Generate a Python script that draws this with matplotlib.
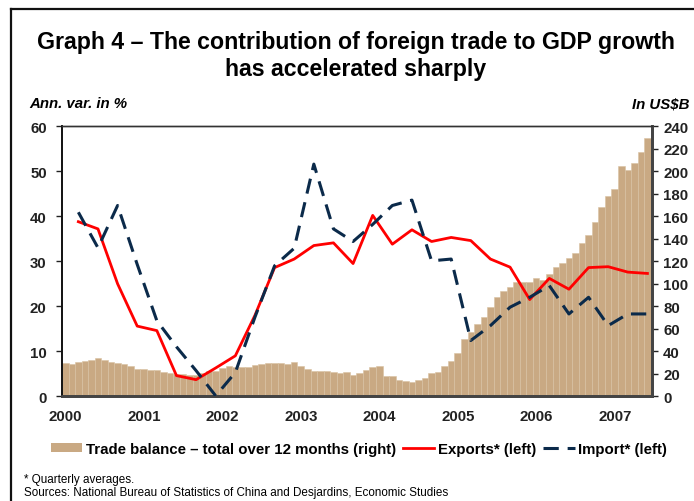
import matplotlib
matplotlib.use("Agg")
import matplotlib.pyplot as plt
from matplotlib.patches import Patch
from matplotlib.lines import Line2D
import numpy as np

plt.rcParams['font.family'] = ['Liberation Sans', 'DejaVu Sans']

# Data
years = ['2000', '2001', '2002', '2003', '2004', '2005', '2006', '2007']

# Monthly trade balance, total over 12 months (US$B), Jan 2000 - Jun 2007
trade_balance = [
    29.6, 28.7, 30.8, 31.7, 32.5, 34.3, 32.5, 30.2, 29.3, 28.7, 26.7, 24.3,
    24.3, 23.4, 23.4, 21.9, 20.7, 19.8, 19.8, 18.9, 18.9, 20.7, 22.2, 22.8,
    24.9, 26.7, 25.8, 25.8, 25.8, 27.8, 28.7, 29.3, 29.3, 29.6, 28.7, 30.8,
    26.7, 24.3, 22.2, 22.2, 22.2, 21.3, 20.7, 21.3, 19.3, 20.7, 23.4, 26.4,
    26.7, 18.4, 18.4, 14.5, 13.9, 13.0, 14.5, 16.3, 20.7, 21.9, 26.7, 31.7,
    38.5, 51.0, 56.9, 64.3, 70.8, 79.1, 88.0, 93.9, 96.9, 101.3, 101.9, 101.9,
    104.9, 103.7, 108.7, 114.7, 118.5, 123.0, 127.4, 136.0, 143.4, 155.3, 168.0, 177.8,
    184.3, 205.0, 201.2, 207.4, 217.5, 229.6,
]

# Quarterly averages, annual variation in % (Q1 2000 - Q2 2007)
exports = [38.8, 37.2, 25.0, 15.6, 14.6, 4.6, 3.7, 6.3, 9.0, 18.0,
           28.6, 30.5, 33.5, 34.1, 29.5, 40.2, 33.8, 37.0, 34.4, 35.3,
           34.6, 30.5, 28.7, 21.5, 26.2, 23.8, 28.6, 28.8, 27.6, 27.3]
imports = [40.9, 33.0, 42.4, 29.3, 16.8, 11.0, 5.7, 0.1, 5.3, 17.6,
           29.0, 32.9, 51.6, 37.2, 34.4, 38.2, 42.4, 43.6, 30.1, 30.5,
           12.4, 15.7, 19.8, 22.0, 24.6, 18.3, 22.0, 15.7, 18.3, 18.3]

W, H = 694, 502
fig = plt.figure(figsize=(W / 100, H / 100), dpi=100)

L, R, T, B = 62, 652, 127.3, 397.3
ax2 = fig.add_axes([L / W, 1 - B / H, (R - L) / W, (B - T) / H])
ax = ax2.twinx()
ax.yaxis.tick_left()
ax.yaxis.set_label_position('left')
ax2.yaxis.tick_right()

month_x = np.arange(len(trade_balance))
q_x = np.arange(len(exports)) * 3 + 2

tan = '#C9A983'
imp_color = '#0B2A4A'
imp_dash = (5.0, 2.9)
ax2.bar(month_x, trade_balance, width=1.0, color=tan, edgecolor='#D9C2A3', linewidth=0.4, zorder=1)
ax.plot(q_x, exports, color='#FF0000', lw=2.0, zorder=3)
ax.plot(q_x, imports, color=imp_color, lw=2.2, dashes=imp_dash, zorder=3)

ax.set_zorder(ax2.get_zorder() + 1)
ax.patch.set_visible(False)

xmax = 89.7
ax.set_xlim(-0.5, xmax)
ax2.set_xlim(-0.5, xmax)
ax.set_ylim(0, 60)
ax2.set_ylim(0, 240)
ax.set_yticks(np.arange(0, 61, 10))
ax2.set_yticks(np.arange(0, 241, 20))
ax2.set_xticks(np.arange(len(years)) * 12)
ax2.set_xticklabels(years)

for lab in ax.get_yticklabels() + ax2.get_yticklabels() + ax2.get_xticklabels():
    lab.set_fontsize(10.8)
    lab.set_fontweight('bold')

ax.tick_params(axis='y', left=True, right=False, length=4, width=1, pad=7, colors='#222222')
ax2.tick_params(axis='y', left=False, right=True, length=4, width=1, pad=4, colors='#222222')
ax2.tick_params(axis='x', length=0, pad=9, colors='#222222')
ax.tick_params(axis='x', length=0, labelbottom=False)

for a in (ax, ax2):
    a.spines['left'].set_color('#111111')
    a.spines['left'].set_linewidth(1.2)
    a.spines['top'].set_color('#333333')
    a.spines['top'].set_linewidth(1.0)
    a.spines['right'].set_color('#444444')
    a.spines['right'].set_linewidth(2.0)
    a.spines['bottom'].set_color('#444444')
    a.spines['bottom'].set_linewidth(2.0)

# Titles and axis captions
fig.text(356 / W, 1 - 56 / H, 'Graph 4 – The contribution of foreign trade to GDP growth\nhas accelerated sharply',
         ha='center', va='center', fontsize=16.7, fontweight='bold', linespacing=1.2)
fig.text(29 / W, 1 - 104 / H, 'Ann. var. in %', ha='left', va='center', fontsize=10.8, fontweight='bold', style='italic')
fig.text(689 / W, 1 - 104 / H, 'In US$B', ha='right', va='center', fontsize=10.8, fontweight='bold', style='italic')

# Legend
handles = [Patch(facecolor=tan, edgecolor='none'),
           Line2D([], [], color='#FF0000', lw=2.0),
           Line2D([], [], color=imp_color, lw=2.2, dashes=imp_dash)]
labels = ['Trade balance – total over 12 months (right)', 'Exports* (left)', 'Import* (left)']
fig.legend(handles, labels, loc='center', bbox_to_anchor=(359 / W, 1 - 450 / H), ncol=3, frameon=False,
           prop=dict(size=10.8, weight='bold'), handlelength=2.1, handletextpad=0.25, columnspacing=0.45,
           handleheight=0.55)

# Footnotes
foot_family = ['Liberation Sans Narrow', 'Liberation Sans', 'DejaVu Sans']
fig.text(24 / W, 1 - 480 / H, '* Quarterly averages.', ha='left', va='center', fontsize=8.4, family=foot_family)
fig.text(24 / W, 1 - 493 / H, 'Sources: National Bureau of Statistics of China and Desjardins, Economic Studies',
         ha='left', va='center', fontsize=8.4, family=foot_family)

# Frame lines (top and left)
fig.add_artist(Line2D([11 / W, 1.0], [1 - 10 / H, 1 - 10 / H], transform=fig.transFigure, color='#111111', lw=1.6))
fig.add_artist(Line2D([11 / W, 11 / W], [0, 1 - 10 / H], transform=fig.transFigure, color='#111111', lw=1.6))

fig.savefig('out.png', dpi=100)
